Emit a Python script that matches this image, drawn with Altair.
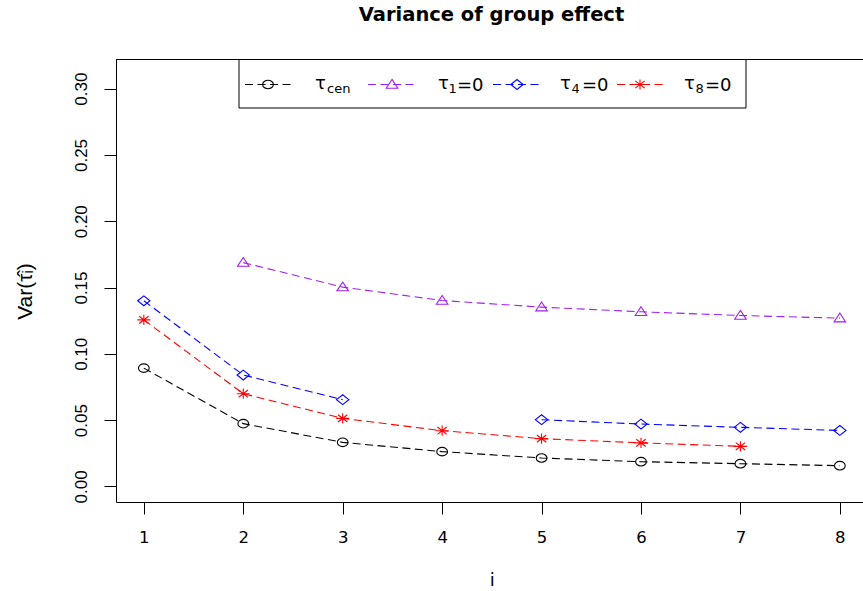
import altair as alt
import pandas as pd

# ---------------- data ----------------
x_vals = [1, 2, 3, 4, 5, 6, 7, 8]
tau_cen = [0.0892, 0.0473, 0.0332, 0.0262, 0.0214, 0.0186, 0.0171, 0.0156]
tau_1 = [None, 0.1688, 0.1503, 0.1402, 0.1352, 0.1317, 0.1289, 0.1269]
tau_4 = [0.1400, 0.0840, 0.0654, None, 0.0503, 0.0470, 0.0445, 0.0422]
tau_8 = [0.1256, 0.0699, 0.0513, 0.0420, 0.0360, 0.0328, 0.0302, None]

series_names = ["cen", "t1", "t4", "t8"]
series_values = [tau_cen, tau_1, tau_4, tau_8]
y_ticks = [0.00, 0.05, 0.10, 0.15, 0.20, 0.25, 0.30]
x_ticks = x_vals

title_text = "Variance of group effect"
x_title = "i"
y_title = "Var(\u03c4\u0302\u1d62)"

# ---------------- styles ----------------
colors = ["#000000", "#A020F0", "#0000FF", "#FF0000"]
shape_paths = [
    "M-1,0A1,0.8,0,1,1,1,0A1,0.8,0,1,1,-1,0Z",                       # open circle
    "M0,-0.88L1,0.64L-1,0.64Z",                                        # open triangle
    "M-1,0L0,-0.8L1,0L0,0.8Z",                                         # open diamond
    "M-1,0L1,0M0,-0.78L0,0.78M-0.72,-0.56L0.72,0.56M-0.72,0.56L0.72,-0.56",  # asterisk
]
sym_sizes = [115, 170, 195, 185]
dash = [8, 4.5]

W, H = 747, 443
PAD_L, PAD_T = 116, 59

rows = []
for name, vals in zip(series_names, series_values):
    seg = 0
    for x, v in zip(x_vals, vals):
        if v is None:
            seg += 1
            continue
        rows.append({"i": x, "var": v, "series": name, "seg": f"{name}_{seg}"})
df = pd.DataFrame(rows)

color_enc = alt.Color("series:N", scale=alt.Scale(domain=series_names, range=colors), legend=None)
shape_enc = alt.Shape("series:N", scale=alt.Scale(domain=series_names, range=shape_paths), legend=None)
size_enc = alt.Size("series:N", scale=alt.Scale(domain=series_names, range=sym_sizes), legend=None)

x_enc = alt.X(
    "i:Q",
    scale=alt.Scale(domain=[0.72, 8.2328], nice=False, zero=False),
    axis=alt.Axis(
        values=x_ticks, format="d", tickSize=12, labelPadding=15,
        labelFont="DejaVu Sans", labelFontSize=16.5, labelColor="black",
        domainColor="black", tickColor="black", grid=False, labelFlush=False,
        title=x_title, titleFont="DejaVu Sans", titleFontSize=18,
        titleFontWeight="normal", titleColor="black",
        titleX=375.7, titleY=83, titleBaseline="alphabetic", titleAlign="center",
    ),
)
y_enc = alt.Y(
    "var:Q",
    scale=alt.Scale(domain=[-0.0118, 0.3224], nice=False, zero=False),
    axis=alt.Axis(
        values=y_ticks, format=".2f", tickSize=12, labelPadding=18,
        labelAngle=270, labelAlign="center", labelBaseline="alphabetic",
        labelFont="Liberation Sans", labelFontSize=17, labelColor="black",
        domainColor="black", tickColor="black", grid=False, labelFlush=False,
        title=y_title, titleFont="Liberation Sans, DejaVu Sans", titleFontSize=21,
        titleFontWeight="normal", titleColor="black", titleAngle=270,
        titleX=-85, titleY=232, titleBaseline="alphabetic", titleAlign="center",
    ),
)

lines = alt.Chart(df).mark_line(strokeDash=dash, strokeWidth=1.1).encode(
    x=x_enc, y=y_enc, color=color_enc, detail="seg:N"
)
points = alt.Chart(df).mark_point(filled=False, strokeWidth=1.1, opacity=1).encode(
    x="i:Q", y="var:Q", color=color_enc, shape=shape_enc, size=size_enc
)

# top frame line (right side of R's box falls outside the window)
frame_top = alt.Chart(pd.DataFrame({"a": [0]})).mark_rule(color="black", strokeWidth=1).encode(
    x=alt.value(0), x2=alt.value(W), y=alt.value(0.5)
)

# ---------------- legend (pixel positions relative to plot area) ----------------
leg_box = alt.Chart(pd.DataFrame({"a": [0]})).mark_rect(
    fill="white", stroke="black", strokeWidth=1
).encode(x=alt.value(123), x2=alt.value(630), y=alt.value(0.5), y2=alt.value(49))

leg_items = pd.DataFrame({
    "series": series_names,
    "lx1": [129, 252, 377, 501],
    "lx2": [176, 299, 424, 547],
    "sx": [152, 276, 401, 524],
    "ly": [25.5, 25.5, 25.5, 25.5],
})
leg_lines = alt.Chart(leg_items).mark_rule(strokeDash=dash, strokeWidth=1.1).encode(
    x=alt.X("lx1:Q", scale=None, axis=None), x2="lx2:Q",
    y=alt.Y("ly:Q", scale=None, axis=None), color=color_enc,
)
leg_syms = alt.Chart(leg_items).mark_point(filled=False, strokeWidth=1.1, opacity=1).encode(
    x=alt.X("sx:Q", scale=None, axis=None), y=alt.Y("ly:Q", scale=None, axis=None),
    color=color_enc, shape=shape_enc, size=size_enc,
)

leg_text = pd.DataFrame({
    "txt": ["\u03c4", "cen", "\u03c4", "1", "=0", "\u03c4", "4", "=0", "\u03c4", "8", "=0"],
    "tx": [199, 211, 322, 332.5, 341, 444, 455.5, 466, 568, 579.5, 589],
    "ty": [30, 33.5, 30, 34, 32, 30, 34, 32, 30, 34, 32],
    "fs": [18, 13, 18, 13, 18, 18, 13, 18, 18, 13, 18],
})
leg_labels = alt.Chart(leg_text).mark_text(
    align="left", baseline="alphabetic", font="DejaVu Sans", color="black"
).encode(
    x=alt.X("tx:Q", scale=None, axis=None), y=alt.Y("ty:Q", scale=None, axis=None),
    text="txt:N", size=alt.Size("fs:Q", scale=None, legend=None),
)

title_mark = alt.Chart(pd.DataFrame({"t": [title_text]})).mark_text(
    align="center", baseline="alphabetic", font="DejaVu Sans", fontWeight="bold",
    fontSize=19.5, color="black"
).encode(x=alt.value(375.5), y=alt.value(-38), text="t:N")

chart = alt.layer(
    lines, points, frame_top, leg_box, leg_lines, leg_syms, leg_labels, title_mark
).properties(
    width=W, height=H,
    autosize=alt.AutoSizeParams(type="none"),
    padding={"left": PAD_L, "top": PAD_T, "right": 0, "bottom": 89},
    background="white",
).configure_view(stroke="transparent")

chart.save("out.html", embed_options={"renderer": "svg", "actions": False})
